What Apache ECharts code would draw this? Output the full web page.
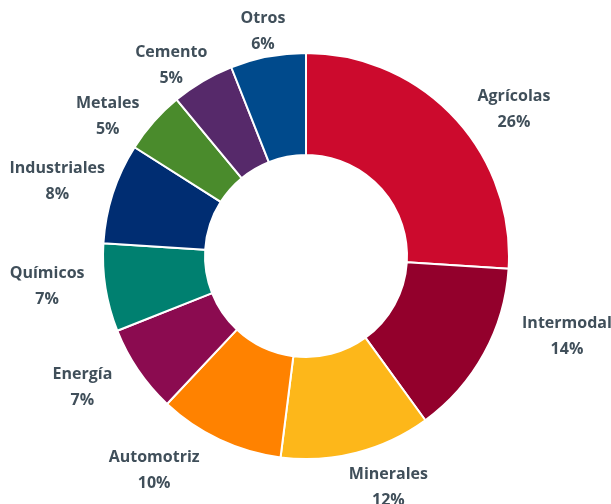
<!DOCTYPE html>
<html>
<head>
<meta charset="utf-8">
<script src="https://cdn.jsdelivr.net/npm/echarts@6/dist/echarts.min.js"></script>
<style>
  html, body { margin: 0; padding: 0; background: #fff; }
  #chart { width: 611px; height: 504px; }
</style>
</head>
<body>
<div id="chart"></div>
<script>
// datos del gráfico (porcentajes por segmento)
var categorias = ['Agrícolas', 'Intermodal', 'Minerales', 'Automotriz', 'Energía',
                  'Químicos', 'Industriales', 'Metales', 'Cemento', 'Otros'];
var valores = [26, 14, 12, 10, 7, 7, 8, 5, 5, 6];
var colores = ['#CC0A2D', '#93002C', '#FDB71A', '#FF8200', '#8B0B50',
               '#008070', '#002D72', '#4A8B2C', '#56296A', '#004A8C'];

var chart = echarts.init(document.getElementById('chart'));

// pequeños ajustes de las etiquetas (como en el original, movidas a mano)
var ajustes = [[25, 25], [41, -40], [20, -12], [-45, -13], [-16, -10],
               [-11, -9], [-10, 3], [-10, 26], [-7, 25], [4, 22]];

var option = {
  animation: false,
  series: [
    {
      // anillo principal
      type: 'pie',
      center: [306, 256],
      radius: [101, 203],
      startAngle: 90,
      clockwise: true,
      itemStyle: { borderColor: '#fff', borderWidth: 2 },
      label: { show: false },
      labelLine: { show: false },
      data: categorias.map(function (c, i) {
        return { name: c, value: valores[i], itemStyle: { color: colores[i] } };
      })
    },
    {
      // anillo invisible solo para colocar las etiquetas por fuera
      type: 'pie',
      silent: true,
      center: [306, 256],
      radius: [203, 293],
      startAngle: 90,
      clockwise: true,
      itemStyle: { color: 'rgba(0,0,0,0)' },
      label: {
        show: true,
        position: 'inside',
        formatter: '{b}\n{d}%',
        color: '#404F5A',
        fontFamily: 'Open Sans',
        fontWeight: 'bold',
        fontSize: 16,
        lineHeight: 26,
        align: 'center'
      },
      labelLine: { show: false },
      labelLayout: function (p) {
        return { dx: ajustes[p.dataIndex][0], dy: ajustes[p.dataIndex][1] };
      },
      data: categorias.map(function (c, i) { return { name: c, value: valores[i] }; })
    }
  ]
};

chart.setOption(option);
</script>
</body>
</html>
